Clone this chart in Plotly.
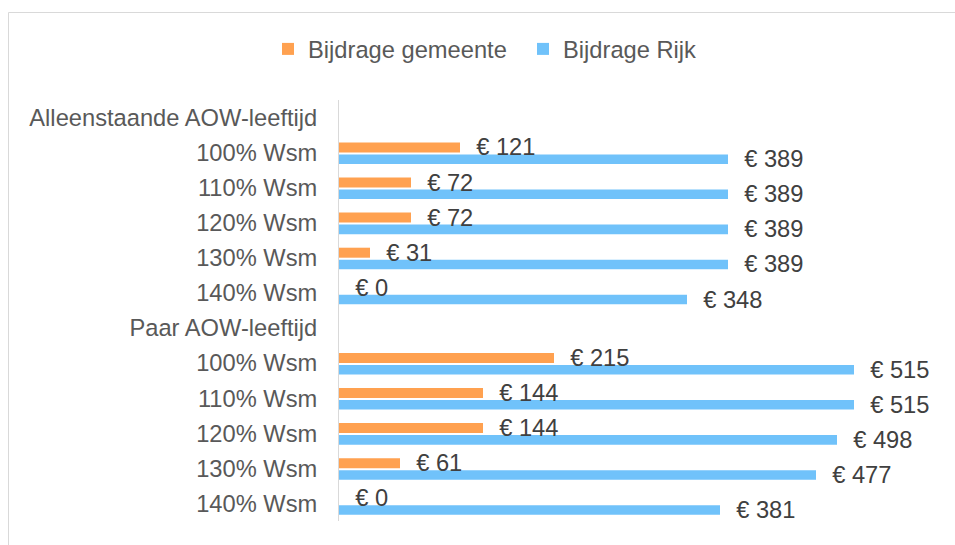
import plotly.graph_objects as go

categories = [
    "Alleenstaande AOW-leeftijd", "100% Wsm", "110% Wsm", "120% Wsm", "130% Wsm", "140% Wsm",
    "Paar AOW-leeftijd", "100% Wsm", "110% Wsm", "120% Wsm", "130% Wsm", "140% Wsm",
]
bijdrage_gemeente = [None, 121, 72, 72, 31, 0, None, 215, 144, 144, 61, 0]
bijdrage_rijk = [None, 389, 389, 389, 389, 348, None, 515, 515, 498, 477, 381]
series_names = ["Bijdrage gemeente", "Bijdrage Rijk"]

ypos = list(range(len(categories)))
FONT = "Liberation Sans, Arial, sans-serif"
FS = 23.7

fig = go.Figure()
# Rijk first so the gemeente labels are drawn on top of the blue bars
fig.add_trace(go.Bar(
    y=ypos, x=bijdrage_rijk, orientation="h", name=series_names[1],
    marker=dict(color="#70C2FA", line=dict(width=0)),
    width=0.275, offset=0.05,
    texttemplate="\u00a0\u00a0€ %{x}", textposition="outside", constraintext="none",
    cliponaxis=False, textfont=dict(family=FONT, size=FS, color="#404040"),
    hoverinfo="skip",
))
fig.add_trace(go.Bar(
    y=ypos, x=bijdrage_gemeente, orientation="h", name=series_names[0],
    marker=dict(color="#FFA150", line=dict(width=0)),
    width=0.285, offset=-0.29,
    texttemplate="\u00a0\u00a0€ %{x}", textposition="outside", constraintext="none",
    cliponaxis=False, textfont=dict(family=FONT, size=FS, color="#404040"),
    hoverinfo="skip",
))

L, R, T, B = 339, 16, 100, 24
PW = 955 - L - R
PH = 545 - T - B

def px_x(p):
    return (p - L) / PW

def px_y(p):
    return (545 - B - p) / PH

fig.update_layout(
    width=955, height=545,
    margin=dict(l=L, r=R, t=T, b=B, pad=0),
    paper_bgcolor="white", plot_bgcolor="white",
    font=dict(family=FONT, size=FS, color="#595959"),
    barmode="overlay",
    showlegend=True,
    legend=dict(
        orientation="h", x=px_x(268), xanchor="left", y=px_y(49), yanchor="middle",
        font=dict(family=FONT, size=FS, color="#595959"),
        bgcolor="rgba(0,0,0,0)", traceorder="reversed", entrywidth=210,
    ),
    xaxis=dict(
        range=[0, PW], showgrid=False, zeroline=False, showline=False,
        showticklabels=False, ticks="", fixedrange=True,
    ),
    yaxis=dict(
        tickmode="array", tickvals=ypos, ticktext=categories,
        range=[len(categories) - 0.5, -0.5],
        showgrid=False, zeroline=False, showline=True, linecolor="#d9d9d9", linewidth=1,
        ticks="", ticklabelstandoff=16,
        tickfont=dict(family=FONT, size=FS, color="#595959"),
        fixedrange=True,
    ),
    shapes=[dict(
        type="rect", xref="paper", yref="paper",
        x0=px_x(8.5), x1=px_x(1000), y0=px_y(600), y1=px_y(12.5),
        line=dict(color="#d9d9d9", width=1), fillcolor="rgba(0,0,0,0)", layer="below",
    )],
)

fig.write_html(
    "out.html",
    config={"displayModeBar": False, "staticPlot": True},
    post_script="document.body.style.margin='0';document.body.style.overflow='hidden';",
)
